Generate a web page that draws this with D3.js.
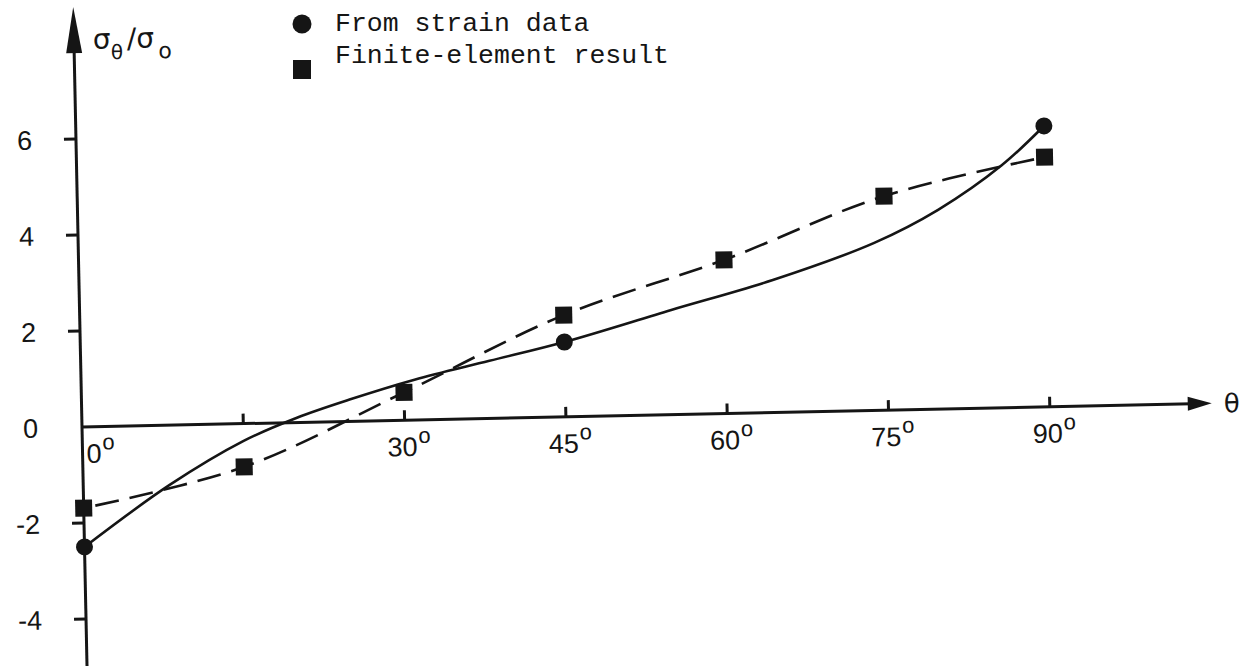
<!DOCTYPE html>
<html><head><meta charset="utf-8">
<script src="https://cdn.jsdelivr.net/npm/d3@7"></script>
<style>html,body{margin:0;padding:0;background:#fff;} svg{display:block}</style>
</head><body><svg id="c" width="1239" height="666"></svg>
<script>
// ---- data ----
const xTickAngles = [15, 30, 45, 60, 75, 90];
const xLabelAngles = [0, 30, 45, 60, 75, 90];
const xTickLabels = ["0", "30", "45", "60", "75", "90"];
const yTickValues = [6, 4, 2, 0, -2, -4];
const yTickLabels = ["6", "4", "2", "0", "-2", "-4"];

const strainAngles = [0, 45, 90];
const strainValues = [-2.5, 1.56, 5.85];

const feAngles = [0, 15, 30, 45, 60, 75, 90];
const feValues = [-1.69, -0.9, 0.58, 2.12, 3.2, 4.46, 5.2];

// solid fitted curve (through strain data)
const strainCurveAngles = [0, 8, 15, 20, 25, 31, 38, 45, 55, 64.5, 74, 80, 86, 90];
const strainCurveValues = [-2.5, -1.25, -0.36, 0.1, 0.46, 0.84, 1.2, 1.56, 2.18, 2.76, 3.49, 4.15, 5.05, 5.85];

const legendLabels = ["From strain data", "Finite-element result"];

// ---- drawing ----
const svg = d3.select("#c");
const ink = "#151515";
const origin = {x: 82, y: 427};
const tilt = -1.2;

const x = d3.scaleLinear().domain([0, 90]).range([0, 968]);
const y = d3.scaleLinear().domain([-4, 6]).range([192, -288]);

const g = svg.append("g")
  .attr("transform", `translate(${origin.x},${origin.y}) rotate(${tilt})`);

// y axis
g.append("line").attr("x1", 0).attr("x2", 0).attr("y1", -380).attr("y2", 260)
  .attr("stroke", ink).attr("stroke-width", 3);
g.append("path").attr("d", "M0,-420 L-8,-374 L8,-374 Z").attr("fill", ink);

// x axis
g.append("line").attr("x1", 0).attr("x2", 1110).attr("y1", 0).attr("y2", 0)
  .attr("stroke", ink).attr("stroke-width", 3);
g.append("path").attr("d", "M1130,0 L1106,-7 L1106,7 Z").attr("fill", ink);

// x ticks
g.selectAll(".xt").data(xTickAngles).join("line")
  .attr("x1", d => x(d)).attr("x2", d => x(d)).attr("y1", 0).attr("y2", -10)
  .attr("stroke", ink).attr("stroke-width", 3);

// x tick labels
const xl = g.selectAll(".xl").data(xLabelAngles).join("text")
  .attr("x", d => d === 0 ? x(d) + 4 : x(d) + 4)
  .attr("y", 36)
  .attr("text-anchor", d => d === 0 ? "start" : "middle")
  .attr("font-family", "'Liberation Sans', Arial, sans-serif")
  .attr("font-size", 27).attr("fill", ink);
xl.append("tspan").text((d, i) => xTickLabels[i]);
xl.append("tspan").attr("font-size", 22).attr("dy", -13).attr("dx", 1).text("o");

// y ticks
g.selectAll(".yt").data(yTickValues.filter(v => v !== 0)).join("line")
  .attr("x1", -12).attr("x2", 0).attr("y1", d => y(d)).attr("y2", d => y(d))
  .attr("stroke", ink).attr("stroke-width", 3);

g.selectAll(".yl").data(yTickValues).join("text")
  .attr("x", -44).attr("y", d => y(d)).attr("dy", "0.36em")
  .attr("text-anchor", "end")
  .attr("font-family", "'Liberation Sans', Arial, sans-serif")
  .attr("font-size", 27).attr("fill", ink)
  .text((d, i) => yTickLabels[i]);

// axis titles
const yt = g.append("text").attr("x", 19).attr("y", -378)
  .attr("font-family", "'DejaVu Sans', sans-serif").attr("font-size", 28).attr("fill", ink);
yt.append("tspan").text("σ");
yt.append("tspan").attr("font-size", 20).attr("dy", 11).text("θ");
yt.append("tspan").attr("dy", -11).attr("dx", 4).text("/σ");
yt.append("tspan").attr("font-size", 22).attr("dy", 11).attr("dx", 4).text("o");

g.append("text").attr("x", 1142).attr("y", 0).attr("dy", "0.36em")
  .attr("font-family", "'DejaVu Sans', sans-serif").attr("font-size", 26).attr("fill", ink)
  .text("θ");

// curves
const solid = d3.line().x(d => x(d[0])).y(d => y(d[1])).curve(d3.curveCatmullRom.alpha(0.5));
g.append("path")
  .attr("d", solid(strainCurveAngles.map((a, i) => [a, strainCurveValues[i]])))
  .attr("fill", "none").attr("stroke", ink).attr("stroke-width", 2.6);

const dashed = d3.line().x(d => x(d[0])).y(d => y(d[1])).curve(d3.curveCatmullRom.alpha(0.5));
g.append("path")
  .attr("d", dashed(feAngles.map((a, i) => [a, feValues[i]])))
  .attr("fill", "none").attr("stroke", ink).attr("stroke-width", 2.6)
  .attr("stroke-dasharray", "24,11").attr("stroke-dashoffset", -12);

// markers
const sq = 17;
g.selectAll(".fe").data(feAngles).join("rect")
  .attr("x", d => x(d) - sq / 2).attr("y", (d, i) => y(feValues[i]) - sq / 2)
  .attr("width", sq).attr("height", sq).attr("fill", ink);

g.selectAll(".st").data(strainAngles).join("circle")
  .attr("cx", d => x(d)).attr("cy", (d, i) => y(strainValues[i]))
  .attr("r", 8.5).attr("fill", ink);

// legend
const lg = svg.append("g");
lg.append("circle").attr("cx", 302).attr("cy", 24).attr("r", 9.5).attr("fill", ink);
lg.append("rect").attr("x", 293).attr("y", 60).attr("width", 18).attr("height", 19).attr("fill", ink);
lg.selectAll(".lt").data(legendLabels).join("text")
  .attr("x", 335).attr("y", (d, i) => 31 + i * 32)
  .attr("font-family", "'Liberation Mono', 'Courier New', monospace")
  .attr("font-size", 26.5).attr("fill", ink)
  .text(d => d);
</script></body></html>
